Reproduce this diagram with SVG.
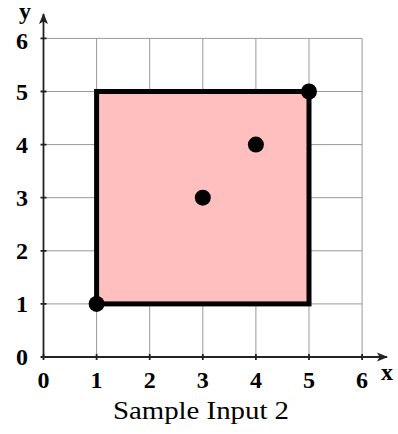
<svg xmlns="http://www.w3.org/2000/svg" width="398" height="434" viewBox="0 0 398 434">
<defs>
<style>
.grid{stroke:#999;stroke-width:1;fill:none}
.axis{stroke:#222;stroke-width:1.8;fill:none}
.tick{stroke:#222;stroke-width:1.8}
.num{font-family:"Liberation Serif","DejaVu Serif",serif;font-weight:bold;font-size:24px;fill:#000}
.cap{font-family:"Liberation Serif","DejaVu Serif",serif;font-size:25px;fill:#000}
.pt{fill:#000}
</style>
<marker id="ah" markerWidth="12" markerHeight="12" refX="10" refY="6" orient="auto" markerUnits="userSpaceOnUse">
<path d="M0,1.5 L11,6 L0,10.5 L2.5,6 Z" fill="#222"/>
</marker>
</defs>
<g id="grid">
<path class="grid" d="M96.6,38.4V357 M149.7,38.4V357 M202.8,38.4V357 M255.9,38.4V357 M309,38.4V357 M362.1,38.4V357 M43.5,303.9H362.1 M43.5,250.8H362.1 M43.5,197.7H362.1 M43.5,144.6H362.1 M43.5,91.5H362.1 M43.5,38.4H362.1"/>
</g>
<g id="square">
<rect x="96.6" y="91.5" width="212.4" height="212.4" fill="#ffbfbf" stroke="#000" stroke-width="5"/>
</g>
<g id="connectors">
<line class="axis" x1="43.5" y1="357" x2="387" y2="357" marker-end="url(#ah)"/>
<line class="axis" x1="43.5" y1="357" x2="43.5" y2="14" marker-end="url(#ah)"/>
<path class="tick" d="M96.6,354V360 M149.7,354V360 M202.8,354V360 M255.9,354V360 M309,354V360 M362.1,354V360 M40.5,303.9H46.5 M40.5,250.8H46.5 M40.5,197.7H46.5 M40.5,144.6H46.5 M40.5,91.5H46.5 M40.5,38.4H46.5 M40.5,357H46.5 M43.5,354V360"/>
</g>
<g id="points">
<circle class="pt" cx="96.6" cy="303.9" r="8"/>
<circle class="pt" cx="202.8" cy="197.7" r="8"/>
<circle class="pt" cx="255.9" cy="144.6" r="8"/>
<circle class="pt" cx="309" cy="91.5" r="8"/>
</g>
<g id="labels">
<text class="num" x="43.5" y="388" text-anchor="middle">0</text>
<text class="num" x="96.6" y="388" text-anchor="middle">1</text>
<text class="num" x="149.7" y="388" text-anchor="middle">2</text>
<text class="num" x="202.8" y="388" text-anchor="middle">3</text>
<text class="num" x="255.9" y="388" text-anchor="middle">4</text>
<text class="num" x="309" y="388" text-anchor="middle">5</text>
<text class="num" x="362.1" y="388" text-anchor="middle">6</text>
<text class="num" x="22" y="365" text-anchor="middle">0</text>
<text class="num" x="22" y="312" text-anchor="middle">1</text>
<text class="num" x="22" y="259" text-anchor="middle">2</text>
<text class="num" x="22" y="206" text-anchor="middle">3</text>
<text class="num" x="22" y="153" text-anchor="middle">4</text>
<text class="num" x="22" y="100" text-anchor="middle">5</text>
<text class="num" x="22" y="49" text-anchor="middle">6</text>
<text class="num" x="387" y="380" text-anchor="middle">x</text>
<text class="num" x="25" y="19" text-anchor="middle" font-size="23">y</text>
<text class="cap" x="201" y="419" text-anchor="middle" textLength="176" lengthAdjust="spacingAndGlyphs">Sample Input 2</text>
</g>
</svg>
